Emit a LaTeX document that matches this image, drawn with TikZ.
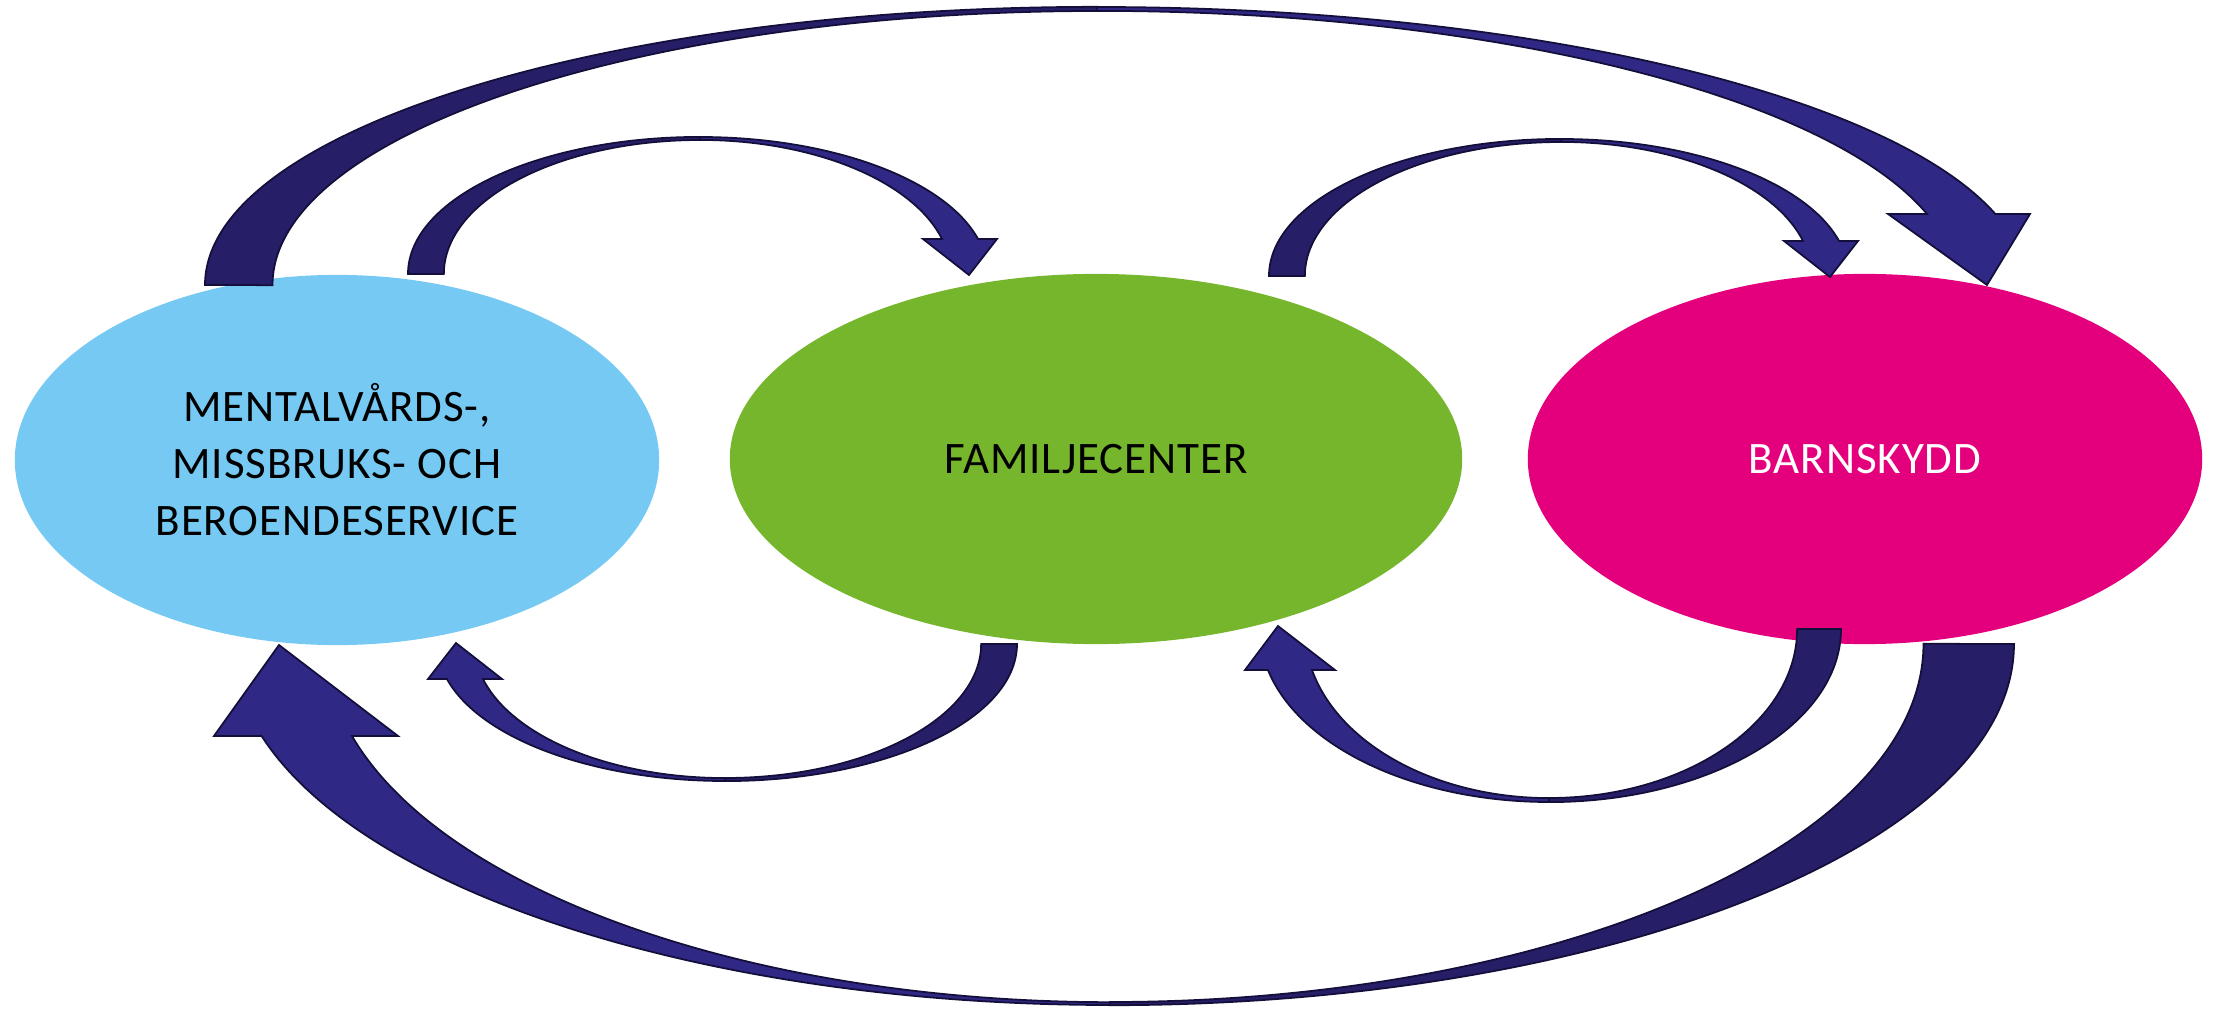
\documentclass[tikz,border=0pt]{standalone}
\usepackage{fontspec}
\newfontfamily\labelfont{Carlito}[LetterSpace=2]
\usetikzlibrary{shapes.geometric}
\definecolor{mhblue}{RGB}{117,201,242}
\definecolor{fcgreen}{RGB}{118,182,44}
\definecolor{bsmagenta}{RGB}{228,0,125}
\definecolor{arrowdark}{RGB}{38,30,102}
\definecolor{arrowlight}{RGB}{47,40,132}
\definecolor{arrowline}{RGB}{20,15,58}
\begin{document}
\begin{tikzpicture}[x=0.01cm, y=0.01cm,
  blob/.style={ellipse, inner sep=0pt, draw=none, align=center,
    font={\labelfont\fontsize{12.8pt}{16.2pt}\selectfont}},
  tailpart/.style={fill=arrowdark, draw=arrowline, line width=0.5pt, line join=miter},
  headpart/.style={fill=arrowlight, draw=arrowline, line width=0.5pt, line join=miter}]
\useasboundingbox (0,0) rectangle (2214,1008);
% services
\node[blob, fill=mhblue, minimum width=6.44cm, minimum height=3.70cm] (mh) at (337,548)
  {MENTALVÅRDS-,\\MISSBRUKS- OCH\\BEROENDESERVICE};
\node[blob, fill=fcgreen, minimum width=7.32cm, minimum height=3.70cm] (fc) at (1096,549)
  {FAMILJECENTER};
\node[blob, fill=bsmagenta, text=white, minimum width=6.74cm, minimum height=3.70cm] (bs) at (1865,549)
  {BARNSKYDD};
% A: big top arrow, mh -> bs
\draw[tailpart] (205,723) arc[start angle=180, end angle=90, x radius=8.92cm, y radius=2.78cm]
  -- (1097,997) arc[start angle=90, end angle=180, x radius=8.24cm, y radius=2.74cm] -- cycle;
\draw[headpart] (1097,1001) arc[start angle=90, end angle=14.80, x radius=9.288cm, y radius=2.78cm]
  -- (2030,794) -- (1987,723) -- (1888,794) -- (1927,794)
  arc[start angle=15.02, end angle=90, x radius=8.594cm, y radius=2.74cm] -- cycle;
% B: small top arrow, mh -> fc
\draw[tailpart] (408,734) arc[start angle=180, end angle=90, x radius=2.92cm, y radius=1.37cm]
  -- (700,868) arc[start angle=90, end angle=180, x radius=2.56cm, y radius=1.34cm] -- cycle;
\draw[headpart] (700,871) arc[start angle=90, end angle=14.80, x radius=2.875cm, y radius=1.37cm]
  -- (997,769) -- (969,733) -- (923,769) -- (942,769)
  arc[start angle=15.14, end angle=90, x radius=2.507cm, y radius=1.34cm] -- cycle;
% C: small top arrow, fc -> bs
\begin{scope}[shift={(861,-2)}]
\draw[tailpart] (408,734) arc[start angle=180, end angle=90, x radius=2.92cm, y radius=1.37cm]
  -- (700,868) arc[start angle=90, end angle=180, x radius=2.56cm, y radius=1.34cm] -- cycle;
\draw[headpart] (700,871) arc[start angle=90, end angle=14.80, x radius=2.875cm, y radius=1.37cm]
  -- (997,769) -- (969,733) -- (923,769) -- (942,769)
  arc[start angle=15.14, end angle=90, x radius=2.507cm, y radius=1.34cm] -- cycle;
\end{scope}
% D: small bottom arrow, fc -> mh
\draw[tailpart] (1017,364) arc[start angle=0, end angle=-90, x radius=2.92cm, y radius=1.37cm]
  -- (725,230) arc[start angle=-90, end angle=0, x radius=2.56cm, y radius=1.34cm] -- cycle;
\draw[headpart] (725,227) arc[start angle=270, end angle=194.80, x radius=2.875cm, y radius=1.37cm]
  -- (428,329) -- (456,365) -- (502,329) -- (483,329)
  arc[start angle=195.14, end angle=270, x radius=2.507cm, y radius=1.34cm] -- cycle;
% E: bottom arrow, bs -> fc
\draw[tailpart] (1841,379) arc[start angle=0, end angle=-90, x radius=2.92cm, y radius=1.73cm]
  -- (1549,210) arc[start angle=-90, end angle=0, x radius=2.48cm, y radius=1.69cm] -- cycle;
\draw[headpart] (1549,206) arc[start angle=270, end angle=193.71, x radius=2.892cm, y radius=1.73cm]
  -- (1245,338) -- (1278,382) -- (1335,338) -- (1312,338)
  arc[start angle=194.04, end angle=270, x radius=2.443cm, y radius=1.69cm] -- cycle;
% F: big bottom arrow, bs -> mh
\draw[tailpart] (2014,364) arc[start angle=0, end angle=-90, x radius=9.04cm, y radius=3.61cm]
  -- (1110,6) arc[start angle=-90, end angle=0, x radius=8.13cm, y radius=3.58cm] -- cycle;
\draw[headpart] (1110,3) arc[start angle=270, end angle=194.77, x radius=8.77cm, y radius=3.61cm]
  -- (214,272) -- (279,363) -- (398,272) -- (352,272)
  arc[start angle=194.89, end angle=270, x radius=7.844cm, y radius=3.58cm] -- cycle;
\end{tikzpicture}
\end{document}
